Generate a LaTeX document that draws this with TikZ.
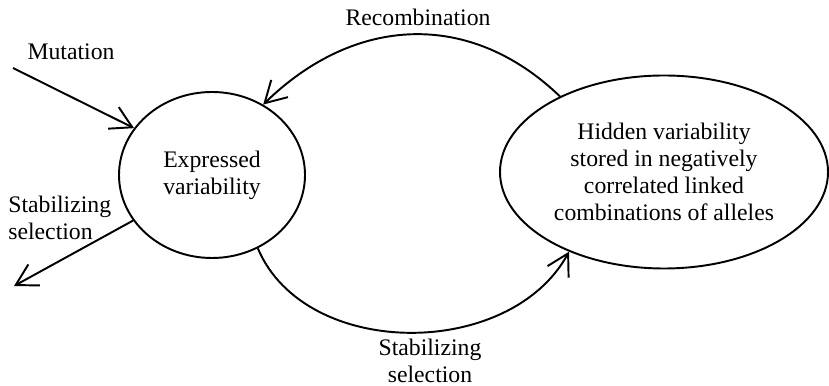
\documentclass[tikz,border=0pt]{standalone}
\usepackage{fontspec}
\setmainfont{Liberation Serif}
\usetikzlibrary{shapes.geometric,arrows.meta}

\begin{document}
\begin{tikzpicture}[pool/.style={ellipse, draw, line width=1.1pt, align=center, inner sep=0pt},
	flow/.style={line width=1.1pt, -{Straight Barb[length=4.2mm,width=4.8mm,line width=1.1pt]}},
	lbl/.style={inner sep=0pt},
	font=\fontsize{13.5}{15.4}\selectfont]
\useasboundingbox (0,0) rectangle (16.58,7.72);
\node[pool, minimum width=3.72cm, minimum height=3.32cm] (expr) at (4.24,4.22) {Expressed\\variability};
\node[pool, minimum width=6.56cm, minimum height=3.86cm] (hidden) at (13.28,4.28)
	{Hidden variability\\stored in negatively\\correlated linked\\combinations of alleles};
% labels
\node[lbl] (mut) at (1.42,6.68) {Mutation};
\node[lbl, anchor=west, align=left] (stabl) at (0.16,3.36) {Stabilizing\\selection};
\node[lbl] (recomb) at (8.36,7.38) {Recombination};
\node[lbl, align=center] (stabb) at (8.6,0.5) {Stabilizing\\selection};
\coordinate (mutsrc) at (0.26,6.36);
\coordinate (stabout) at (0.28,2.0);
% arrows
\draw[flow] (mutsrc) -- (expr.149);
\draw[flow] (expr.210) -- (stabout);
\draw[flow] (hidden.144) .. controls (9.4,7.52) and (7.1,7.42) .. (expr.54);
\draw[flow] (expr.302) .. controls (6.1,0.52) and (10.2,0.52) .. (hidden.220);
\end{tikzpicture}
\end{document}
